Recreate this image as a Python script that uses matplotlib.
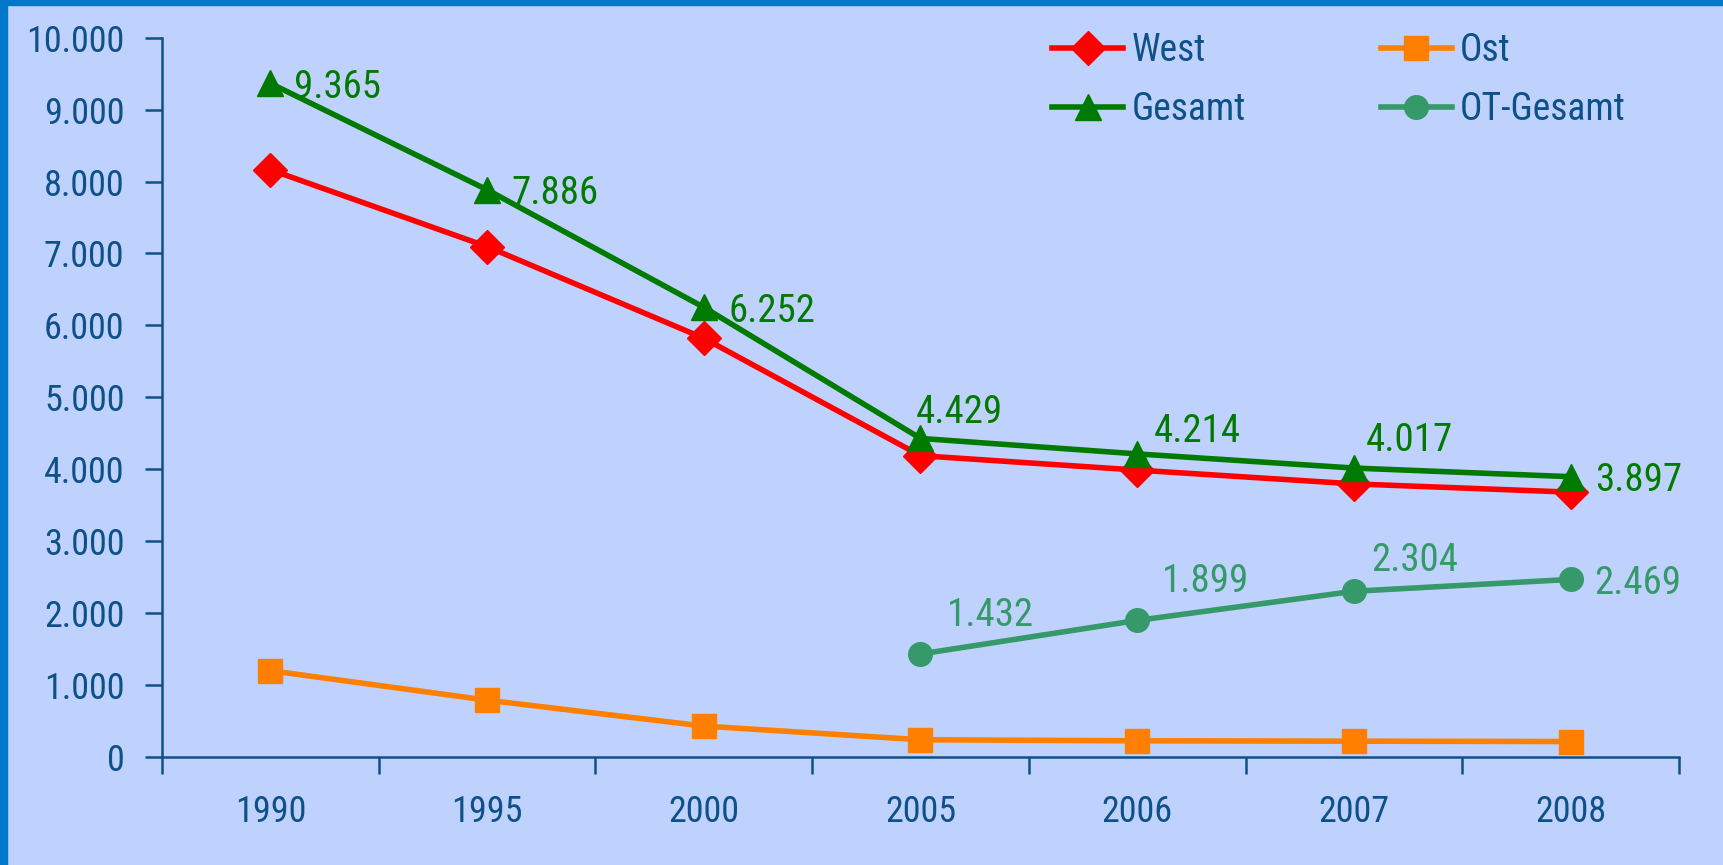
import matplotlib
matplotlib.use('Agg')
import matplotlib.pyplot as plt
from matplotlib import font_manager
from matplotlib.patches import Rectangle
from matplotlib.ticker import FuncFormatter, FixedLocator

# pick a condensed font if one is there
names = {f.name for f in font_manager.fontManager.ttflist}
for cand in ['Roboto Condensed', 'Liberation Sans Narrow', 'Archivo Narrow', 'PT Sans Narrow']:
    if cand in names:
        plt.rcParams['font.family'] = [cand, 'DejaVu Sans']
        break
else:
    plt.rcParams['font.family'] = ['DejaVu Sans']
    plt.rcParams['font.stretch'] = 'condensed'

years = ['1990', '1995', '2000', '2005', '2006', '2007', '2008']
gesamt = [9365, 7886, 6252, 4429, 4214, 4017, 3897]
west = [8165, 7096, 5822, 4189, 3989, 3797, 3682]
ost = [1200, 790, 430, 240, 225, 220, 215]
ot_years = ['2005', '2006', '2007', '2008']
ot_gesamt = [1432, 1899, 2304, 2469]

BG = '#BFD2FD'
AXC = '#0E5088'
GREEN = '#007A00'
OTGREEN = '#35996A'
FS = 26
LFS = 28  # value labels

fig = plt.figure(figsize=(17.24, 8.65), dpi=100, facecolor=BG)
ax = fig.add_axes([162 / 1724, 1 - 757 / 865, (1679 - 162) / 1724, (757 - 37.7) / 865])
ax.set_facecolor(BG)

# blue frame on top and left
fig.patches.append(Rectangle((0, 1 - 5 / 865), 1, 5 / 865, transform=fig.transFigure, color='#0077C8', zorder=10))
fig.patches.append(Rectangle((0, 0), 7 / 1724, 1, transform=fig.transFigure, color='#0077C8', zorder=10))

x = list(range(len(years)))
x_ot = [years.index(y) for y in ot_years]

h_west, = ax.plot(x, west, color='#FF0000', lw=4, marker='D', ms=17, label='West', zorder=3)
h_ost, = ax.plot(x, ost, color='#FF7F00', lw=4, marker='s', ms=17, label='Ost', zorder=3)
h_ges, = ax.plot(x, gesamt, color=GREEN, lw=4, marker='^', ms=19, label='Gesamt', zorder=4)
h_ot, = ax.plot(x_ot, ot_gesamt, color=OTGREEN, lw=4, marker='o', ms=17, label='OT-Gesamt', zorder=3)

def fmt(v):
    return f'{int(v):,}'.replace(',', '.')

# value labels (offsets in pixels)
g_off = [(24, 0), (24, 0), (25, 0), (-5, 30), (17, 26), (12, 32), (24, 0)]
for i, v in enumerate(gesamt):
    dx, dy = g_off[i]
    ax.annotate(fmt(v), (x[i], v), xytext=(dx, dy), textcoords='offset pixels',
                color=GREEN, fontsize=LFS, ha='left', va='center_baseline')
o_off = [(26, 42), (25, 43), (17, 35), (24, 0)]
for i, v in enumerate(ot_gesamt):
    dx, dy = o_off[i]
    ax.annotate(fmt(v), (x_ot[i], v), xytext=(dx, dy), textcoords='offset pixels',
                color=OTGREEN, fontsize=LFS, ha='left', va='center_baseline')

ax.set_xlim(-0.5, len(years) - 0.5)
ax.set_ylim(0, 10000)
ax.set_yticks(range(0, 10001, 1000))
ax.yaxis.set_major_formatter(FuncFormatter(lambda v, p: fmt(v)))
ax.xaxis.set_major_locator(FixedLocator([i - 0.5 for i in range(len(years) + 1)]))
ax.xaxis.set_major_formatter(FuncFormatter(lambda v, p: ''))
ax.set_xticks(x, minor=True)
ax.set_xticklabels(years, minor=True)
ax.tick_params(axis='x', which='minor', length=0, pad=27, labelsize=FS, labelcolor=AXC)
ax.tick_params(axis='x', which='major', length=12, width=1.8, color=AXC, direction='out')
ax.tick_params(axis='y', length=12, width=1.8, color=AXC, labelsize=FS, labelcolor=AXC, pad=15)

for s in ['top', 'right']:
    ax.spines[s].set_visible(False)
for s in ['left', 'bottom']:
    ax.spines[s].set_color(AXC)
    ax.spines[s].set_linewidth(1.8)

# legend: West / Ost on the first row, Gesamt / OT-Gesamt on the second
leg = ax.legend([h_west, h_ges, h_ost, h_ot], ['West', 'Gesamt', 'Ost', 'OT-Gesamt'],
                ncol=2, loc='upper left', bbox_to_anchor=(1052 / 1724, 1 - 32 / 865),
                bbox_transform=fig.transFigure, frameon=False, fontsize=27,
                handlelength=1.9, handletextpad=0.22, columnspacing=3.6, labelspacing=0.58,
                borderpad=0, borderaxespad=0)
for t in leg.get_texts():
    t.set_color(AXC)

fig.savefig('out.png', dpi=100, facecolor=BG)
